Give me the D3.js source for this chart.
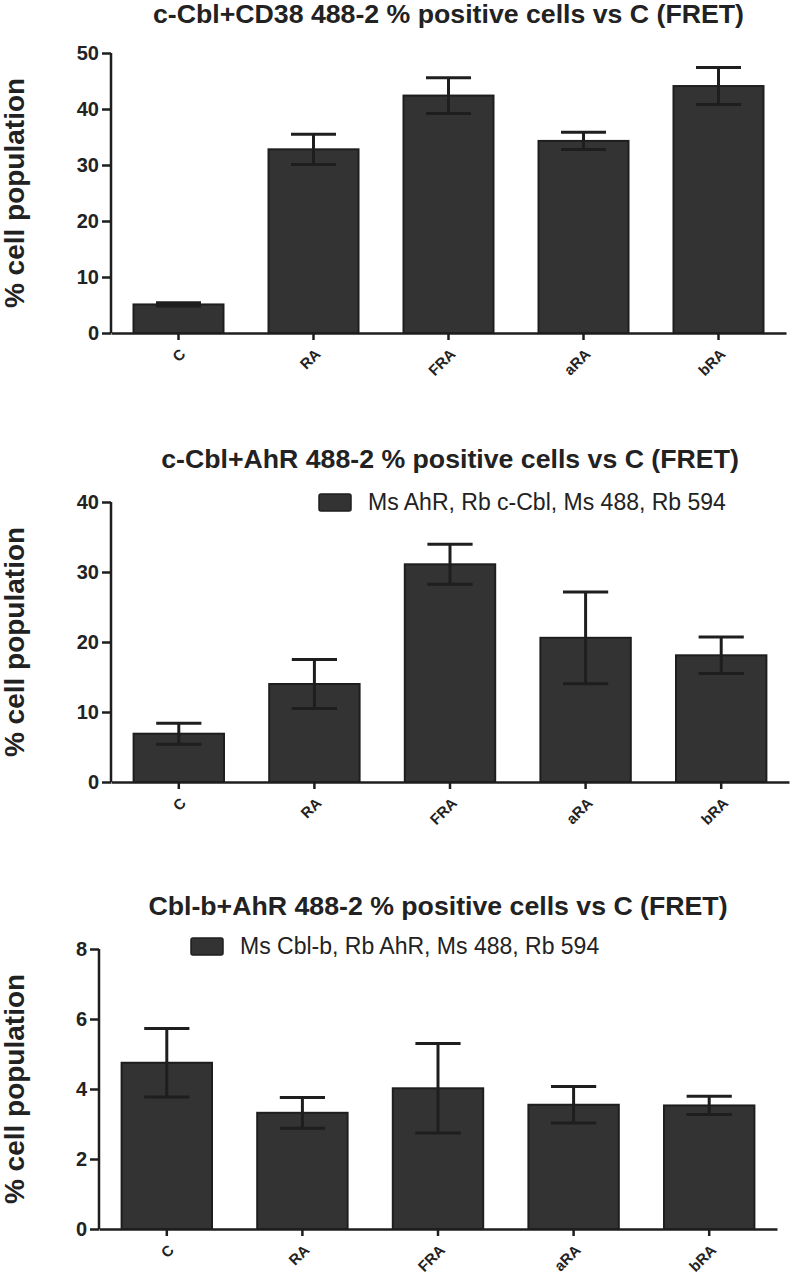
<!DOCTYPE html>
<html>
<head>
<meta charset="utf-8">
<script src="https://cdn.jsdelivr.net/npm/d3@7"></script>
<style>
  html, body { margin: 0; padding: 0; background: #fff; }
  svg { display: block; font-family: "Liberation Sans", Arial, Helvetica, sans-serif; }
</style>
</head>
<body>
<svg id="chart" width="791" height="1274"></svg>
<script>
// ---- data ----
const categories = ["C", "RA", "FRA", "aRA", "bRA"];

const titles = [
  "c-Cbl+CD38 488-2 % positive cells vs C (FRET)",
  "c-Cbl+AhR 488-2 % positive cells vs C (FRET)",
  "Cbl-b+AhR 488-2 % positive cells vs C (FRET)"
];
const legendLabels = [null, "Ms AhR, Rb c-Cbl, Ms 488, Rb 594", "Ms Cbl-b, Rb AhR, Ms 488, Rb 594"];

const meansCD38 = [5.1, 32.8, 42.4, 34.3, 44.1];
const errorsCD38 = [0.3, 2.7, 3.2, 1.55, 3.3];

const meansCblAhR = [6.9, 14.0, 31.1, 20.6, 18.1];
const errorsCblAhR = [1.5, 3.5, 2.85, 6.55, 2.6];

const meansCblbAhR = [4.75, 3.32, 4.02, 3.55, 3.53];
const errorsCblbAhR = [0.98, 0.44, 1.28, 0.52, 0.26];

const yTicksCD38 = [0, 10, 20, 30, 40, 50];
const yTicksCblAhR = [0, 10, 20, 30, 40];
const yTicksCblbAhR = [0, 2, 4, 6, 8];

const yLabel = "% cell population";

// ---- layout ----
const panels = [
  { means: meansCD38, errors: errorsCD38, ticks: yTicksCD38, title: titles[0], legend: legendLabels[0],
    left: 111, right: 786, top: 53, bottom: 333, titleY: 23, legendX: 0, legendY: 0 },
  { means: meansCblAhR, errors: errorsCblAhR, ticks: yTicksCblAhR, title: titles[1], legend: legendLabels[1],
    left: 111, right: 789, top: 502, bottom: 782, titleY: 468, legendX: 319, legendY: 494 },
  { means: meansCblbAhR, errors: errorsCblbAhR, ticks: yTicksCblbAhR, title: titles[2], legend: legendLabels[2],
    left: 99, right: 777, top: 949, bottom: 1229, titleY: 915, legendX: 191, legendY: 938 }
];

const barFill = "#333333";
const ink = "#1e1e1e";

const svg = d3.select("#chart");

panels.forEach(p => {
  const g = svg.append("g");
  const yMax = p.ticks[p.ticks.length - 1];

  const x = d3.scaleBand()
    .domain(categories)
    .range([p.left, p.right])
    .paddingInner(1 / 3)
    .paddingOuter(1 / 6);

  const y = d3.scaleLinear().domain([0, yMax]).range([p.bottom, p.top]);

  // title
  g.append("text")
    .attr("x", (p.left + p.right) / 2)
    .attr("y", p.titleY)
    .attr("text-anchor", "middle")
    .attr("font-weight", "bold")
    .attr("font-size", 26.7)
    .attr("fill", "#222")
    .text(p.title);

  // y label
  g.append("text")
    .attr("transform", `translate(24, ${(p.top + p.bottom) / 2}) rotate(-90)`)
    .attr("text-anchor", "middle")
    .attr("font-weight", "bold")
    .attr("font-size", 28)
    .attr("fill", "#222")
    .text(yLabel);

  // bars
  g.selectAll("rect.bar")
    .data(categories)
    .join("rect")
    .attr("class", "bar")
    .attr("x", d => x(d))
    .attr("width", x.bandwidth())
    .attr("y", (d, i) => y(p.means[i]))
    .attr("height", (d, i) => y(0) - y(p.means[i]))
    .attr("fill", barFill)
    .attr("stroke", ink)
    .attr("stroke-width", 2);

  // error bars
  const capW = x.bandwidth() / 2;
  const eb = g.selectAll("g.err")
    .data(categories)
    .join("g")
    .attr("class", "err")
    .attr("stroke", ink)
    .attr("stroke-width", 3);
  eb.append("line")
    .attr("x1", d => x(d) + x.bandwidth() / 2)
    .attr("x2", d => x(d) + x.bandwidth() / 2)
    .attr("y1", (d, i) => y(p.means[i] + p.errors[i]))
    .attr("y2", (d, i) => y(p.means[i] - p.errors[i]));
  eb.append("line")
    .attr("x1", d => x(d) + x.bandwidth() / 2 - capW / 2)
    .attr("x2", d => x(d) + x.bandwidth() / 2 + capW / 2)
    .attr("y1", (d, i) => y(p.means[i] + p.errors[i]))
    .attr("y2", (d, i) => y(p.means[i] + p.errors[i]));
  eb.append("line")
    .attr("x1", d => x(d) + x.bandwidth() / 2 - capW / 2)
    .attr("x2", d => x(d) + x.bandwidth() / 2 + capW / 2)
    .attr("y1", (d, i) => y(p.means[i] - p.errors[i]))
    .attr("y2", (d, i) => y(p.means[i] - p.errors[i]));

  // y axis
  const yAxis = g.append("g")
    .attr("transform", `translate(${p.left},0)`)
    .call(d3.axisLeft(y).tickValues(p.ticks).tickSize(9).tickPadding(3).tickFormat(d3.format("d")));
  yAxis.select(".domain").attr("stroke", ink).attr("stroke-width", 2.5).attr("d", `M0,${p.top}V${p.bottom}`);
  yAxis.selectAll(".tick line").attr("stroke", ink).attr("stroke-width", 2.5);
  yAxis.selectAll(".tick text")
    .attr("font-size", 20).attr("font-weight", "bold").attr("fill", "#222")
    .attr("font-family", "Liberation Sans, Arial, sans-serif");

  // x axis
  const xAxis = g.append("g")
    .attr("transform", `translate(0,${p.bottom})`)
    .call(d3.axisBottom(x).tickSize(7).tickSizeOuter(0));
  xAxis.select(".domain").attr("stroke", ink).attr("stroke-width", 2.5);
  xAxis.selectAll(".tick line").attr("stroke", ink).attr("stroke-width", 2.5);
  xAxis.selectAll(".tick text")
    .attr("font-size", 15).attr("font-weight", "bold").attr("fill", "#222")
    .attr("font-family", "Liberation Sans, Arial, sans-serif")
    .attr("text-anchor", "end")
    .attr("dy", null)
    .attr("y", 0)
    .attr("transform", "translate(8,22) rotate(-45)");

  // legend
  if (p.legend) {
    g.append("rect")
      .attr("x", p.legendX).attr("y", p.legendY)
      .attr("width", 32).attr("height", 17)
      .attr("rx", 2)
      .attr("fill", barFill).attr("stroke", ink).attr("stroke-width", 1.5);
    g.append("text")
      .attr("x", p.legendX + 49).attr("y", p.legendY + 16)
      .attr("font-size", 23).attr("fill", "#222")
      .text(p.legend);
  }
});
</script>
</body>
</html>
